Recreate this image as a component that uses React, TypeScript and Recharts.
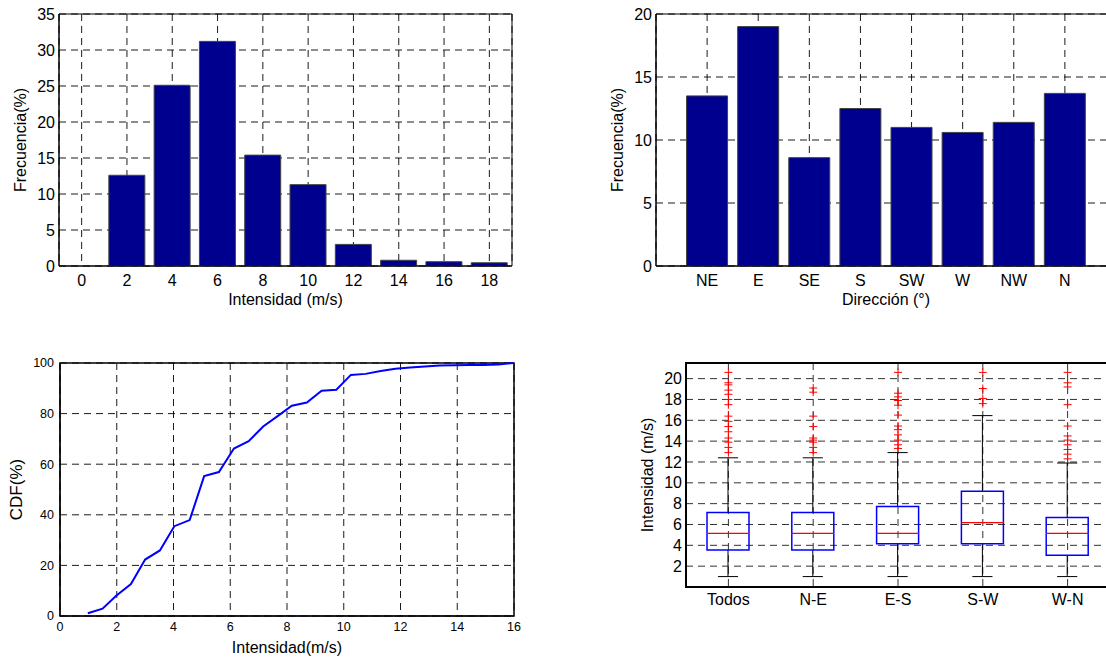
import React from 'react'
import {
  BarChart, Bar, LineChart, Line, ComposedChart, Scatter,
  XAxis, YAxis, CartesianGrid, ReferenceArea,
} from 'recharts'

// histograma de intensidad
const speedBins = ['0', '2', '4', '6', '8', '10', '12', '14', '16', '18']
const speedFreq = [0, 12.6, 25.1, 31.2, 15.4, 11.3, 3.0, 0.8, 0.6, 0.45]

// histograma de direccion
const directions = ['NE', 'E', 'SE', 'S', 'SW', 'W', 'NW', 'N']
const directionFreq = [13.5, 19.0, 8.6, 12.5, 11.0, 10.6, 11.4, 13.7]

// CDF de intensidad
const cdfSpeed = [0.98, 1.5, 1.98, 2.5, 3.0, 3.52, 4.03, 4.57, 5.08, 5.6, 6.13, 6.65, 7.16, 7.67, 8.17, 8.7, 9.22, 9.74, 10.25, 10.77, 11.3, 11.82, 12.34, 12.86, 13.38, 13.9, 14.42, 14.93, 15.45, 15.97]
const cdfValue = [1.1, 2.9, 8.0, 12.6, 22.3, 25.9, 35.5, 37.9, 55.3, 56.9, 66.2, 69.1, 74.9, 79.0, 83.1, 84.4, 89.0, 89.4, 95.3, 95.7, 96.8, 97.7, 98.2, 98.6, 99.0, 99.1, 99.2, 99.2, 99.4, 100]

// boxplot por sector
const boxGroups = ['Todos', 'N-E', 'E-S', 'S-W', 'W-N']
const boxMin = [1.0, 1.0, 1.0, 1.0, 1.0]
const boxQ1 = [3.55, 3.55, 4.15, 4.15, 3.05]
const boxMedian = [5.15, 5.15, 5.15, 6.17, 5.15]
const boxQ3 = [7.16, 7.16, 7.73, 9.2, 6.68]
const boxMax = [12.4, 12.4, 12.9, 16.45, 11.9]
const boxOutliers = [
  [12.9, 13.4, 13.9, 14.3, 14.9, 15.4, 15.9, 16.4, 17.5, 18.0, 18.5, 18.9, 19.4, 19.6, 20.6],
  [12.9, 13.4, 13.9, 14.1, 14.3, 15.4, 16.4, 18.7, 19.1],
  [13.3, 13.65, 14.1, 14.6, 15.1, 15.45, 16.5, 17.45, 17.9, 18.25, 18.6, 20.6],
  [17.6, 18.1, 19.05, 20.6],
  [12.3, 12.75, 13.2, 13.65, 14.1, 14.5, 15.45, 17.5, 19.2, 19.6, 20.6],
]

const speedTicks = [0, 5, 10, 15, 20, 25, 30, 35]
const dirTicks = [0, 5, 10, 15, 20]
const dirXTicks = [1, 2, 3, 4, 5, 6, 7, 8]
const cdfXTicks = [0, 2, 4, 6, 8, 10, 12, 14, 16]
const cdfYTicks = [0, 20, 40, 60, 80, 100]
const boxYTicks = [2, 4, 6, 8, 10, 12, 14, 16, 18, 20]
const boxXTicks = [1, 2, 3, 4, 5]

const speedData = speedBins.map((bin, i) => ({ bin, freq: speedFreq[i] }))
const dirData = directions.map((dir, i) => ({ pos: i + 1, freq: directionFreq[i] }))
const cdfData = cdfSpeed.map((x, i) => ({ x, cdf: cdfValue[i] }))
const boxData = boxGroups.map((g, i) => ({
  x: i + 1,
  base: boxMin[i],
  lowW: boxQ1[i] - boxMin[i],
  lowB: boxMedian[i] - boxQ1[i],
  upB: boxQ3[i] - boxMedian[i],
  upW: boxMax[i] - boxQ3[i],
}))
const outlierData = boxOutliers.flatMap((list, i) => list.map((y) => ({ x: i + 1, y })))

const grid = { stroke: '#000', strokeDasharray: '7 5', strokeWidth: 0.9 }
const tickStyle = { fill: '#000', fontSize: 16 }
const smallTick = { fill: '#000', fontSize: 12.5 }
const barFill = '#00008f'
const labelBase = { fill: '#000', fontSize: 16 }
const yLabel = (value: string, offset: number, fontSize = 16) => ({
  value, angle: -90, position: 'insideLeft' as const, offset, fill: '#000', fontSize,
  style: { textAnchor: 'middle' },
})

const LowerWhisker = (p: any) => {
  const cx = p.x + p.width / 2
  const cap = p.width * 0.24
  const bottom = p.y + p.height
  return (
    <g>
      <line x1={cx} x2={cx} y1={p.y} y2={bottom} stroke="#000" />
      <line x1={cx - cap} x2={cx + cap} y1={bottom} y2={bottom} stroke="#000" />
    </g>
  )
}

const UpperWhisker = (p: any) => {
  const cx = p.x + p.width / 2
  const cap = p.width * 0.24
  return (
    <g>
      <line x1={cx} x2={cx} y1={p.y} y2={p.y + p.height} stroke="#000" />
      <line x1={cx - cap} x2={cx + cap} y1={p.y} y2={p.y} stroke="#000" />
    </g>
  )
}

const LowerBox = (p: any) => {
  const b = p.y + p.height
  return (
    <path
      d={`M${p.x},${p.y} L${p.x},${b} L${p.x + p.width},${b} L${p.x + p.width},${p.y}`}
      fill="none" stroke="#0000ff" strokeWidth={1.5}
    />
  )
}

const UpperBox = (p: any) => {
  const b = p.y + p.height
  return (
    <g>
      <path
        d={`M${p.x},${b} L${p.x},${p.y} L${p.x + p.width},${p.y} L${p.x + p.width},${b}`}
        fill="none" stroke="#0000ff" strokeWidth={1.5}
      />
      <line x1={p.x} x2={p.x + p.width} y1={b} y2={b} stroke="#ff0000" strokeWidth={1.2} />
    </g>
  )
}

const Plus = (p: any) => (
  <g>
    <line x1={p.cx - 4} x2={p.cx + 4} y1={p.cy} y2={p.cy} stroke="#ff0000" />
    <line x1={p.cx} x2={p.cx} y1={p.cy - 4} y2={p.cy + 4} stroke="#ff0000" />
  </g>
)

const Empty = () => <g />

export default function App() {
  return (
    <div
      style={{
        position: 'absolute', left: 0, top: 0, width: 1106, height: 657,
        overflow: 'hidden', background: '#fff',
        fontFamily: '"Liberation Sans", Arial, sans-serif',
      }}
    >
      <div style={{ position: 'absolute', left: 0, top: 0 }}>
        <BarChart width={530} height={320} data={speedData} barCategoryGap="10%"
          margin={{ top: 14, left: 0, right: 18, bottom: 0 }}>
          <CartesianGrid {...grid} />
          <ReferenceArea y1={0} y2={35} fill="none" stroke="#000" fillOpacity={0} ifOverflow="visible" />
          <XAxis dataKey="bin" interval={0} height={54} tickLine={false} tickSize={0} tickMargin={9}
            tick={tickStyle} stroke="#000"
            label={{ value: 'Intensidad (m/s)', position: 'insideTop', offset: 28, ...labelBase }} />
          <YAxis domain={[0, 35]} ticks={speedTicks} width={59} tickLine={false} tickSize={0} tickMargin={4}
            tick={tickStyle} stroke="#000" interval={0} label={yLabel('Frecuencia(%)', 20)} />
          <Bar dataKey="freq" fill={barFill} stroke="#444" strokeWidth={1} isAnimationActive={false} />
        </BarChart>
      </div>

      <div style={{ position: 'absolute', left: 560, top: 0 }}>
        <BarChart width={570} height={320} data={dirData}
          margin={{ top: 14, left: 0, right: 14, bottom: 0 }}>
          <CartesianGrid {...grid} />
          <ReferenceArea y1={0} y2={20} fill="none" stroke="#000" fillOpacity={0} ifOverflow="visible" />
          <XAxis dataKey="pos" type="number" domain={[0, 9]} ticks={dirXTicks} interval={0} height={54}
            tickLine={false} tickSize={0} tickMargin={9} tick={tickStyle} stroke="#000"
            tickFormatter={(v: number) => directions[v - 1]}
            label={{ value: 'Dirección (°)', position: 'insideTop', offset: 28, ...labelBase }} />
          <YAxis domain={[0, 20]} ticks={dirTicks} width={96} tickLine={false} tickSize={0} tickMargin={4}
            tick={tickStyle} stroke="#000" interval={0} label={yLabel('Frecuencia(%)', 57)} />
          <Bar dataKey="freq" barSize={41} fill={barFill} stroke="#444" strokeWidth={1} isAnimationActive={false} />
        </BarChart>
      </div>

      <div style={{ position: 'absolute', left: 0, top: 330 }}>
        <LineChart width={530} height={327} data={cdfData}
          margin={{ top: 33, left: 0, right: 16, bottom: 0 }}>
          <CartesianGrid {...grid} />
          <ReferenceArea y1={0} y2={100} fill="none" stroke="#000" strokeWidth={1.5} fillOpacity={0} ifOverflow="visible" />
          <XAxis dataKey="x" type="number" domain={[0, 16]} ticks={cdfXTicks} interval={0} height={41}
            tickLine={false} tickSize={0} tickMargin={6} tick={smallTick} stroke="#000"
            label={{ value: 'Intensidad(m/s)', position: 'insideTop', offset: 26, ...labelBase }} />
          <YAxis domain={[0, 100]} ticks={cdfYTicks} width={60} tickLine={false} tickSize={0} tickMargin={6}
            tick={smallTick} stroke="#000" interval={0} label={yLabel('CDF(%)', 16, 17)} />
          <Line dataKey="cdf" type="linear" stroke="#0000ff" strokeWidth={2} dot={false} isAnimationActive={false} />
        </LineChart>
      </div>

      <div style={{ position: 'absolute', left: 600, top: 330 }}>
        <ComposedChart width={530} height={327} data={boxData}
          margin={{ top: 33, left: 0, right: 20, bottom: 0 }}>
          <CartesianGrid stroke="#333" strokeDasharray="7 5" strokeWidth={1} />
          <ReferenceArea y1={0} y2={21.5} fill="none" stroke="#000" strokeWidth={2} fillOpacity={0} ifOverflow="visible" />
          <XAxis dataKey="x" type="number" domain={[0.5, 5.5]} ticks={boxXTicks} interval={0} height={70}
            tickLine={false} tickSize={0} tickMargin={7} tick={tickStyle} stroke="#000" strokeWidth={2}
            allowDataOverflow tickFormatter={(v: number) => boxGroups[v - 1]} />
          <YAxis domain={[0, 21.5]} ticks={boxYTicks} width={86} tickLine={false} tickSize={0} tickMargin={4}
            tick={tickStyle} stroke="#000" strokeWidth={2} interval={0} allowDataOverflow
            label={yLabel('Intensidad (m/s)', 47)} />
          <Bar dataKey="base" stackId="box" barSize={42} shape={Empty} isAnimationActive={false} />
          <Bar dataKey="lowW" stackId="box" barSize={42} shape={LowerWhisker} isAnimationActive={false} />
          <Bar dataKey="lowB" stackId="box" barSize={42} shape={LowerBox} isAnimationActive={false} />
          <Bar dataKey="upB" stackId="box" barSize={42} shape={UpperBox} isAnimationActive={false} />
          <Bar dataKey="upW" stackId="box" barSize={42} shape={UpperWhisker} isAnimationActive={false} />
          <Scatter data={outlierData} dataKey="y" shape={Plus} isAnimationActive={false} />
        </ComposedChart>
      </div>
    </div>
  )
}
